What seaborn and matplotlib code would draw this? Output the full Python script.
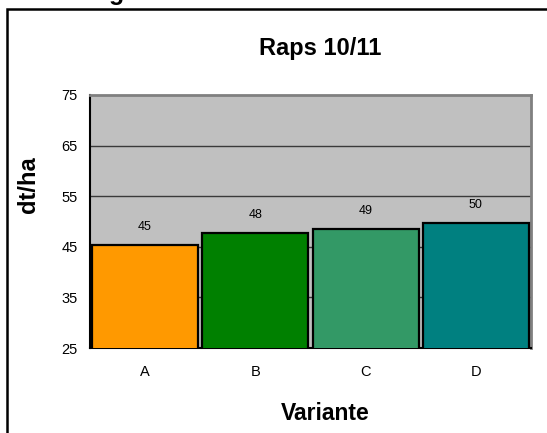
import matplotlib
matplotlib.use("Agg")
import matplotlib.pyplot as plt
from matplotlib.patches import Rectangle
import seaborn as sns
import pandas as pd

# Yield per variant (dt/ha)
varianten = ["A", "B", "C", "D"]
ertrag = [45.4, 47.8, 48.6, 49.8]
farben = ["#FF9900", "#008000", "#339966", "#008080"]
y_ticks = [25, 35, 45, 55, 65, 75]

df = pd.DataFrame({"Variante": varianten, "Ertrag": ertrag})

sns.set_theme(style="white")
plt.rcParams["font.family"] = ["Liberation Sans", "DejaVu Sans"]
plt.rcParams.update({"text.color": "black", "axes.labelcolor": "black",
                     "xtick.color": "black", "ytick.color": "black"})

W, H = 547, 433
fig = plt.figure(figsize=(W / 100, H / 100), dpi=100)
fig.patch.set_facecolor("white")

# plot area in pixel coordinates
left, right, top, bottom = 90, 531, 95, 348
ax = fig.add_axes([left / W, 1 - bottom / H, (right - left) / W, (bottom - top) / H])
ax.set_facecolor("#C0C0C0")

sns.barplot(data=df, x="Variante", y="Ertrag", hue="Variante", palette=farben,
            legend=False, width=0.96, edgecolor="black", linewidth=1.6,
            saturation=1, ax=ax, zorder=3)

ax.set_ylim(y_ticks[0], y_ticks[-1])
ax.set_xlim(-0.5, len(varianten) - 0.5)
ax.set_yticks(y_ticks)
ax.set_yticklabels([str(t) for t in y_ticks], fontsize=10.5)

# category labels centred, tick marks between categories
ax.set_xticks(range(len(varianten)))
ax.set_xticklabels(varianten, fontsize=10.5)
ax.tick_params(axis="x", which="major", length=0, pad=12)
ax.set_xticks([i - 0.5 for i in range(len(varianten) + 1)], minor=True)
ax.tick_params(axis="x", which="minor", length=4, width=1.2, color="black", direction="out")
ax.tick_params(axis="y", length=4, width=1.2, color="black", direction="out", pad=5)

# horizontal gridlines
for t in y_ticks[1:-1]:
    ax.axhline(t, color="#3a3a3a", linewidth=1.0, zorder=1)

for side in ["left", "bottom"]:
    ax.spines[side].set_color("black")
    ax.spines[side].set_linewidth(1.5)
for side in ["top", "right"]:
    ax.spines[side].set_color("#808080")
    ax.spines[side].set_linewidth(2.0)

# value labels above bars
for i, v in enumerate(ertrag):
    ax.text(i, v + 2.3, f"{v:.0f}", ha="center", va="bottom", fontsize=9, color="black")

ax.set_xlabel("")
ax.set_ylabel("")

# title and axis titles, placed relative to the chart frame
fig.text(320 / W, 1 - 48 / H, "Raps 10/11", ha="center", va="center",
         fontsize=17, fontweight="bold")
fig.text(325 / W, 1 - 413 / H, "Variante", ha="center", va="center",
         fontsize=16.5, fontweight="bold")
fig.text(28 / W, 1 - 185 / H, "dt/ha", ha="center", va="center", rotation=90,
         fontsize=17, fontweight="bold")

# chart frame
fig.add_artist(Rectangle((7 / W, -0.05), 1.1, 1 - 9 / H + 0.05, transform=fig.transFigure,
                         fill=False, edgecolor="black", linewidth=1.8))
# heading above the frame, mostly outside the canvas
fig.text(117 / W, 1.0, "g", ha="center", va="baseline", fontsize=18, fontweight="bold")

fig.savefig("out.png", dpi=100)
